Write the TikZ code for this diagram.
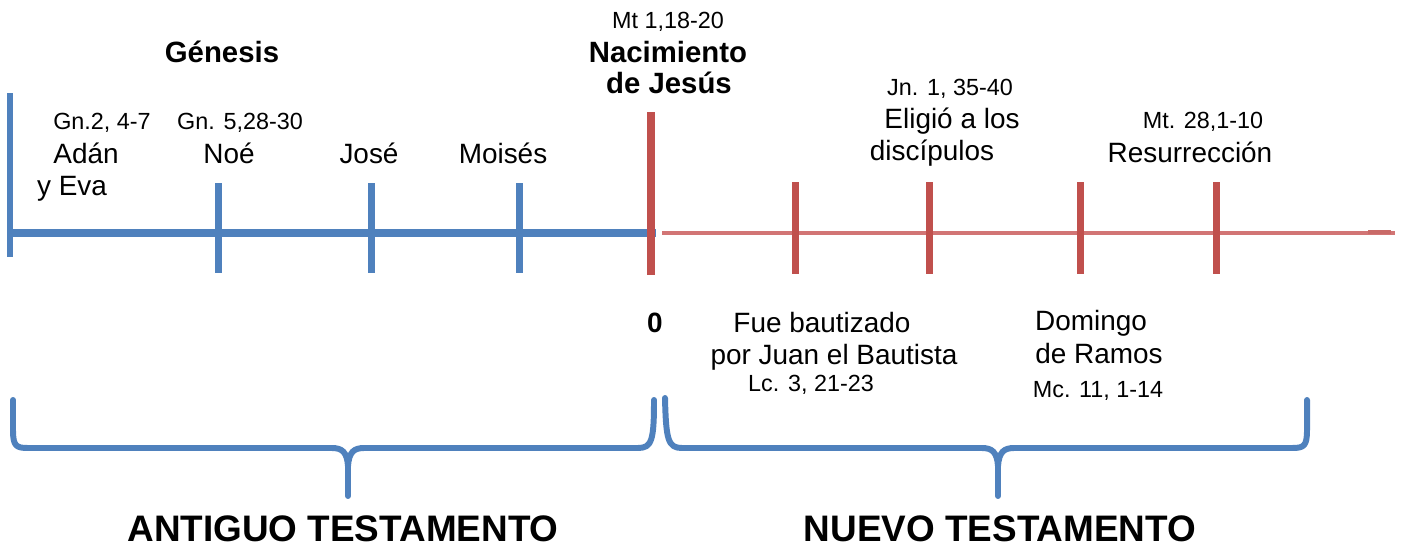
\documentclass[tikz,border=0pt]{standalone}
\usepackage{fontspec}
\setmainfont{Liberation Sans}
\usepackage{tikz}
\usetikzlibrary{positioning}
\definecolor{azulAT}{HTML}{4F81BD}
\definecolor{rojoNT}{HTML}{C0504D}
\definecolor{rojoclaro}{HTML}{D27575}

\begin{document}
\begin{tikzpicture}[x=0.02cm,y=-0.02cm,
  lbl/.style={font=\fontsize{15.9}{18}\selectfont,anchor=base,inner sep=0pt},
  cita/.style={font=\fontsize{13.3}{16}\selectfont,anchor=base,inner sep=0pt},
  titulo/.style={font=\bfseries\fontsize{16.7}{19}\selectfont,anchor=base,inner sep=0pt},
  testamento/.style={font=\bfseries\fontsize{21}{24}\selectfont,anchor=base,inner sep=0pt},
  marcaA/.style={rectangle,fill=azulAT,inner sep=0pt,minimum width=0.14cm,minimum height=1.8cm},
  marcaN/.style={rectangle,fill=rojoNT,inner sep=0pt,minimum width=0.14cm,minimum height=1.84cm},
  ejeA/.style={azulAT,line width=4.5pt},
  ejeN/.style={rojoclaro,line width=1.9pt},
  llave/.style={azulAT,line width=3.4pt,line cap=round,line join=round}]
\useasboundingbox (0,0) rectangle (1413,548);

% ejes
\coordinate (iniA) at (10,233);
\coordinate (finA) at (656,233);
\coordinate (iniN) at (662,233);
\coordinate (finN) at (1395,233);
\coordinate (punta) at (1368,232);
\coordinate (finpunta) at (1391,232);
\draw[ejeA] (iniA) -- (finA);
\draw[ejeN] (iniN) -- (finN);
\draw[rojoNT!85,line width=2.6pt] (punta) -- (finpunta);

% marcas del antiguo testamento
\node (a0) at (10,175) [marcaA,minimum width=0.12cm,minimum height=3.28cm] {};
\node (a1) at (218,228) [marcaA] {};
\node (a2) at (371,228) [marcaA] {};
\node (a3) at (519,228) [marcaA] {};

% marcas del nuevo testamento
\node (n0) at (651,193.5) [marcaN,minimum width=0.16cm,minimum height=3.26cm] {};
\node (n1) at (795,228) [marcaN] {};
\node (n2) at (929,228) [marcaN] {};
\node (n3) at (1080,228) [marcaN] {};
\node (n4) at (1216,228) [marcaN] {};

% textos de arriba
\node (gen) at (222,62) [titulo] {Génesis};
\node (mt1) at (668,28) [cita] {Mt 1,18-20};
\node (nac1) at (668,62) [titulo] {Nacimiento};
\node (nac2) at (669,93) [titulo] {de Jesús};

\node (gn2) at (102,129) [cita] {Gn.2, 4-7};
\node (adan) at (86,163) [lbl] {Adán};
\node (eva) at (72,195) [lbl] {y Eva};
\node (gn5) at (240,129) [cita] {Gn. 5,28-30};
\node (noe) at (229,163) [lbl] {Noé};
\node (jose) at (369,163) [lbl] {José};
\node (moises) at (503,163) [lbl] {Moisés};

\node (jn1) at (950,95) [cita] {Jn. 1, 35-40};
\node (eli1) at (952,128) [lbl] {Eligió a los};
\node (eli2) at (932,160) [lbl] {discípulos};
\node (mt28) at (1203,128) [cita] {Mt. 28,1-10};
\node (res) at (1190,162) [lbl] {Resurrección};

% textos de abajo
\node (cero) at (655,332) [lbl,font=\bfseries\fontsize{15.9}{18}\selectfont] {0};
\node (bau1) at (822,332) [lbl] {Fue bautizado};
\node (bau2) at (834,364) [lbl] {por Juan el Bautista};
\node (lc3) at (811,391) [cita] {Lc. 3, 21-23};
\node (dom1) at (1091,330) [lbl] {Domingo};
\node (dom2) at (1099,363) [lbl] {de Ramos};
\node (mc11) at (1098,397) [cita] {Mc. 11, 1-14};

% llaves
\draw[llave] (13,400) -- (13,430) .. controls (13,446) and (16,448) .. (28,448) -- (332,448)
  .. controls (342,448) and (347,452) .. (348,466) -- (348,496);
\draw[llave] (654,400) .. controls (654,440) and (652,448) .. (638,448) -- (364,448)
  .. controls (354,448) and (349,452) .. (348,466);
\draw[llave] (665,398) .. controls (666,440) and (668,448) .. (682,448) -- (982,448)
  .. controls (992,448) and (997,452) .. (998,466) -- (998,496);
\draw[llave] (1307,400) -- (1307,430) .. controls (1307,446) and (1304,448) .. (1292,448) -- (1014,448)
  .. controls (1004,448) and (999,452) .. (998,466);

\node (at) at (343,541) [testamento] {ANTIGUO TESTAMENTO};
\node (nt) at (1000,541) [testamento] {NUEVO TESTAMENTO};
\end{tikzpicture}
\end{document}
